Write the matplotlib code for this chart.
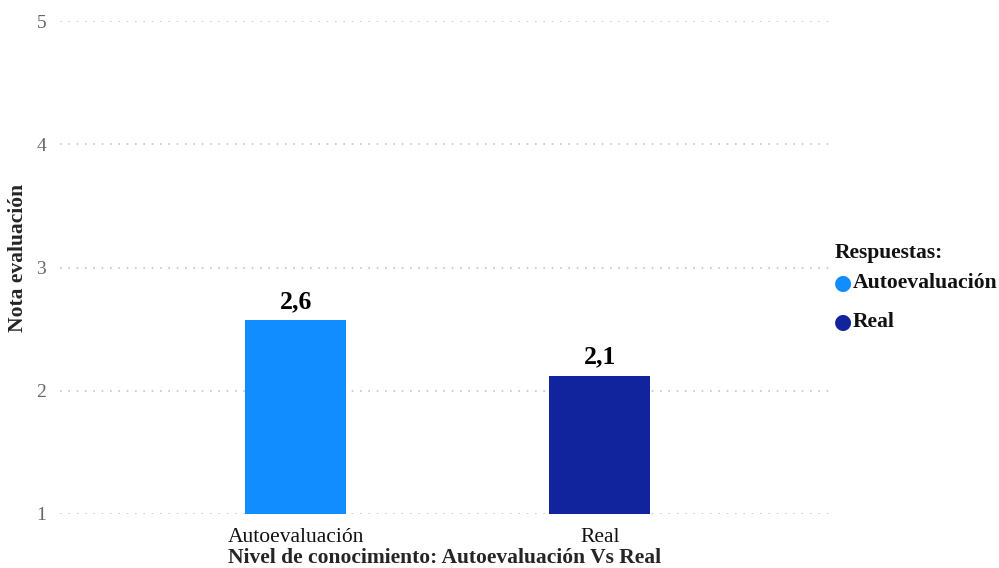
import matplotlib.pyplot as plt

# Datos del gráfico
categorias = ['Autoevaluación', 'Real']
notas = [2.57, 2.12]
colores = ['#118DFF', '#12239E']
ticks_y = [1, 2, 3, 4, 5]

plt.rcParams['font.family'] = ['Liberation Serif', 'DejaVu Serif']

fig = plt.figure(figsize=(9.99, 5.68), dpi=100)
ax = fig.add_axes([60 / 999, 54 / 568, 770 / 999, 493 / 568])

x = list(range(len(categorias)))
base = ticks_y[0]
barras = ax.bar(x, [n - base for n in notas], bottom=base, width=0.332,
                color=colores, zorder=3)

# Etiquetas de valor con coma decimal
for xi, n in zip(x, notas):
    ax.text(xi, n + 0.06, f'{n:.1f}'.replace('.', ','), ha='center', va='bottom',
            fontsize=18.5, fontweight='bold', color='black')

ax.set_ylim(1, 5)
ax.set_xlim(-0.776, 1.757)
ax.set_yticks(ticks_y)
ax.set_yticklabels([str(t) for t in ticks_y], color='#666666', fontsize=14)
ax.set_xticks(x)
ax.set_xticklabels(categorias, fontsize=15.5, color='#111111')
ax.tick_params(axis='both', length=0)
ax.tick_params(axis='y', pad=10)
ax.tick_params(axis='x', pad=10)

for s in ax.spines.values():
    s.set_visible(False)

ax.yaxis.grid(True, color='#c4c4c4', linestyle=(0, (1, 4)), linewidth=1.2, zorder=0)
ax.set_axisbelow(True)

ax.set_xlabel('Nivel de conocimiento: Autoevaluación Vs Real', fontsize=15.5,
              fontweight='bold', color='#252525', labelpad=1)
fig.text(18 / 999, 1 - 258 / 568, 'Nota evaluación', fontsize=15.5, fontweight='bold',
         color='#252525', rotation=90, va='center', ha='center')

# Leyenda manual
fig.text(835 / 999, 1 - 253 / 568, 'Respuestas:', fontsize=15.5, fontweight='bold',
         color='#111111', va='center', ha='left')
for i, (cat, col) in enumerate(zip(categorias, colores)):
    yl = 1 - (283 + 39 * i) / 568
    fig.text(843 / 999, yl, '●', fontsize=15, color=col, va='center', ha='center',
             family=['DejaVu Sans'])
    fig.text(853 / 999, yl, cat, fontsize=15.6, fontweight='bold', color='#111111',
             va='center', ha='left')

fig.savefig('out.png', dpi=100)
